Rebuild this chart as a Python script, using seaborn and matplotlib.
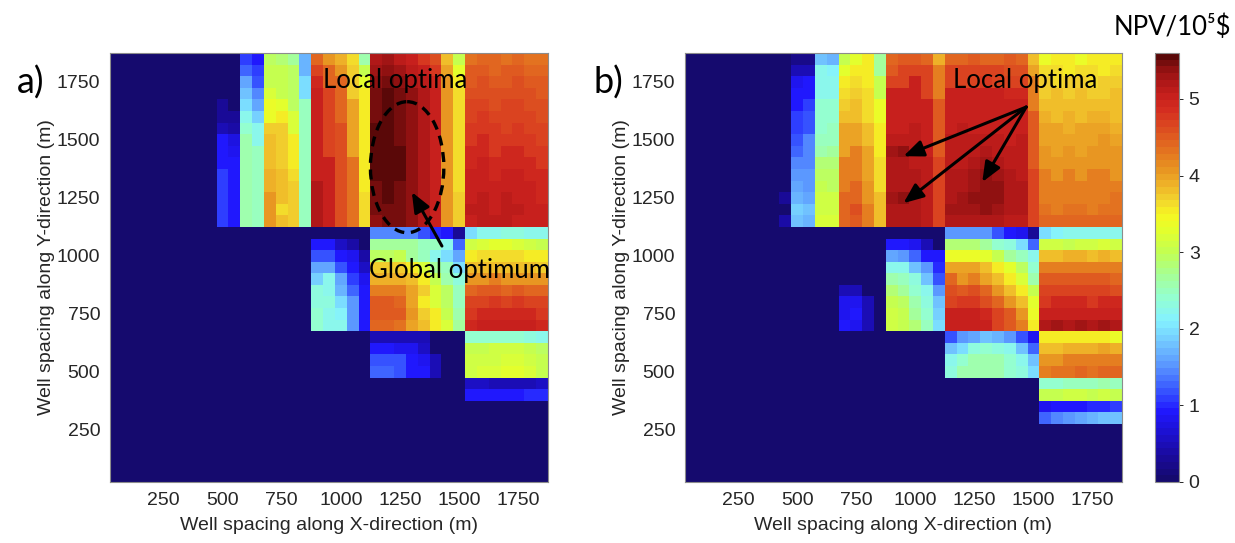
import numpy as np
import pandas as pd
import matplotlib
matplotlib.use("Agg")
import matplotlib.pyplot as plt
from matplotlib.colors import LinearSegmentedColormap
from matplotlib.patches import Ellipse
import seaborn as sns

# Cell centres of the well-spacing grid (m); rows run from the top (largest Y)
x_spacing = list(range(50, 1851, 50))
y_spacing = list(range(1850, 49, -50))

x_ticks = [250, 500, 750, 1000, 1250, 1500, 1750]
y_ticks = [250, 500, 750, 1000, 1250, 1500, 1750]
cbar_ticks = [0, 1, 2, 3, 4, 5]
npv_max = 5.6

# NPV in tenths of 10^5 $: one string per grid row, one character per cell.
# 0-9 -> 0.0-0.9, A-Z -> 1.0-3.5, a-u -> 3.6-5.6
LEVELS = "0123456789ABCDEFGHIJKLMNOPQRSTUVWXYZabcdefghijklmnopqrstu"

npv_a = [
    "000000000" + "00" + "B9TSRH" + "ifdaQ" + "qrpomk" + "cU" + "hiihihh",
    "000000000" + "00" + "DBUUTH" + "lifbU" + "rsrpom" + "eX" + "jjijjii",
    "000000000" + "00" + "GCUUTK" + "niibX" + "stsqpn" + "fZ" + "jkjjkjj",
    "000000000" + "00" + "IEWUTK" + "olibZ" + "tutsqo" + "fa" + "kkkkkkj",
    "000000000" + "30" + "KGYXTP" + "olieZ" + "tutsqo" + "fa" + "llkllkk",
    "000000000" + "33" + "MJYZWP" + "olieZ" + "tutsqo" + "fa" + "lmllllk",
    "000000000" + "54" + "OMbbWP" + "olkeZ" + "uutsqo" + "fa" + "mmmlmll",
    "000000000" + "97" + "QMcbZP" + "olkeZ" + "uutsqo" + "fa" + "mnmmmml",
    "000000000" + "98" + "QPcbZP" + "olkeZ" + "uuusqo" + "fa" + "nnmnnmm",
    "000000000" + "99" + "QPcbZP" + "ookhZ" + "uuusqo" + "fa" + "nonnnnm",
    "000000000" + "B9" + "QPdcaP" + "ookhZ" + "uuusqo" + "fa" + "oonoonn",
    "000000000" + "B9" + "QPdcbP" + "qokhZ" + "tutsqo" + "fa" + "oooooon",
    "000000000" + "B9" + "QPfcbP" + "qokha" + "tutsqo" + "fb" + "opopoon",
    "000000000" + "B9" + "QPfabP" + "qokha" + "tttsqo" + "fb" + "ppoppoo",
    "000000000" + "B9" + "QPfcbP" + "qokha" + "sttsqo" + "fb" + "opppooo",
    "0" * 22 + "EEEECA93" + "KMMNNMM",
    "0" * 17 + "99640" + "RRRRPPMD" + "VWXXWVU",
    "0" * 17 + "CC984" + "TTURPMKG" + "ZaaaaZZ",
    "0" * 17 + "GGC96" + "bbbZWRPK" + "ccccccb",
    "0" * 17 + "JMGB8" + "dddcZUQN" + "ffgffff",
    "0" * 17 + "NMHD9" + "gggebWTP" + "ijjijii",
    "0" * 17 + "NNKF9" + "jjieZWTP" + "llmlmll",
    "0" * 17 + "OMLF9" + "jjjfbZUQ" + "mnnnnnm",
    "0" * 17 + "OMMF9" + "iihecZWR" + "nooooon",
    "0" * 22 + "555550" + "00" + "OOOOONM",
    "0" * 22 + "998860" + "00" + "UUVVVUT",
    "0" * 22 + "CCC985" + "00" + "VVVWWVU",
    "0" * 22 + "DDC995" + "00" + "VWWXXWU",
    "0" * 30 + "6655556",
    "0" * 30 + "99999AA",
] + ["0" * 37] * 7

npv_b = [
    "00000000" + "0" + "2" + "2" + "IHUXZR" + "ijjid" + "iijiiji" + "c" + "YZZYZZZ",
    "00000000" + "0" + "5" + "5" + "MLXZZR" + "jlllg" + "lllllkk" + "e" + "aaZaaZa",
    "00000000" + "0" + "8" + "9" + "MMZaZU" + "llolg" + "lllmlll" + "g" + "babbabb",
    "00000000" + "0" + "9" + "9" + "MMabaU" + "ooolg" + "ooooonn" + "g" + "bcbcbbc",
    "00000000" + "0" + "9" + "B" + "OObcaY" + "ooooj" + "ooooooo" + "g" + "ccccccc",
    "00000000" + "0" + "B" + "C" + "OOccaY" + "ooooj" + "ooooooo" + "j" + "dcdcddc",
    "00000000" + "0" + "B" + "C" + "OPeecZ" + "oopoj" + "opooooo" + "j" + "eedeeed",
    "00000000" + "0" + "C" + "E" + "PPeecZ" + "pppoj" + "pppppop" + "j" + "eeeeefe",
    "00000000" + "0" + "D" + "E" + "QRegeZ" + "rspoj" + "pppqppp" + "j" + "fefefff",
    "00000000" + "0" + "E" + "E" + "SSggea" + "qqppl" + "ppqrqpp" + "j" + "fffffff",
    "00000000" + "0" + "F" + "F" + "TTggea" + "qqqpl" + "qqrsrqp" + "l" + "gfgfggf",
    "00000000" + "0" + "G" + "F" + "UTgifa" + "qqqpl" + "qqrssqq" + "l" + "ggggggg",
    "00000000" + "3" + "H" + "G" + "VViifc" + "rsqpl" + "qrsssqq" + "l" + "ggggggh",
    "00000000" + "0" + "J" + "I" + "VVikgc" + "qqqpl" + "rrrsrqq" + "l" + "hghhghh",
    "00000000" + "4" + "I" + "H" + "WWijgc" + "qqqpl" + "qqqqqpp" + "l" + "iiiiiii",
    "0" * 22 + "FFFFC983" + "KLMMMMM",
    "0" * 17 + "99850" + "SSSRONKD" + "VVUVVWV",
    "0" * 17 + "GFD99" + "YYYXURPM" + "ccddcdc",
    "0" * 17 + "MMIFA" + "eeecZXTO" + "ggggggg",
    "0" * 17 + "QPNIC" + "ifgecZWQ" + "jjjjjji",
    "0" * 13 + "550" + "0" + "SROMF" + "kjkifcZU" + "llllllk",
    "0" * 13 + "885" + "0" + "UTQNI" + "lmmkifcX" + "mnnnmnn",
    "0" * 13 + "895" + "0" + "VUROJ" + "ooonljfY" + "ooooooo",
    "0" * 13 + "985" + "0" + "VUSPK" + "ooooljgZ" + "qrqrqrq",
    "0" * 22 + "CFGIHFC8" + "ZZZZZZY",
    "0" * 22 + "IKNONMID" + "ccddded",
    "0" * 22 + "MOQQQOMI" + "ffggggg",
    "0" * 22 + "NQQQQONK" + "ghhihii",
    "0" * 30 + "OOPPPQP",
    "0" * 30 + "UUVVUVU",
    "0" * 30 + "8999AAB",
    "0" * 30 + "DEFGHII",
] + ["0" * 37] * 5


def decode(rows):
    assert len(rows) == len(y_spacing)
    assert all(len(r) == len(x_spacing) for r in rows)
    vals = np.array([[LEVELS.index(ch) / 10 for ch in r] for r in rows])
    return pd.DataFrame(vals, index=y_spacing, columns=x_spacing)


# jet-like palette, quantised to 64 levels
jet_stops = [0.0, 0.3, 0.6, 0.9, 1.2, 1.5, 1.8, 2.1, 2.4, 2.7, 3.0, 3.3, 3.5,
             3.7, 3.9, 4.1, 4.3, 4.5, 4.7, 4.9, 5.1, 5.3, 5.45, 5.6]
jet_colors = ["#150a6e", "#1a0a9c", "#1c10d0", "#2018ff", "#3a5cff", "#5a96ff",
              "#72c6ff", "#84f2ff", "#94ffd0", "#a6ff96", "#c2ff52", "#e4ff2c",
              "#f6f622", "#f2d22e", "#eeb228", "#e89422", "#e47a20", "#e05e20",
              "#da4420", "#d42c20", "#c41e1c", "#a81616", "#8a1010", "#5a0808"]
npv_cmap = LinearSegmentedColormap.from_list(
    "npv_jet", list(zip([s / npv_max for s in jet_stops], jet_colors)), N=64)

sns.set_style("white")
plt.rcParams["font.family"] = ["Liberation Sans", "DejaVu Sans"]
TXT = "#262626"
CALLOUT = ["Lato", "DejaVu Sans"]

W, H = 1235, 543
fig = plt.figure(figsize=(W / 100, H / 100), dpi=100)
ax_a = fig.add_axes([110 / W, 61 / H, 438 / W, 429 / H])
ax_b = fig.add_axes([685 / W, 61 / H, 437 / W, 429 / H])
cax = fig.add_axes([1155 / W, 61 / H, 24 / W, 429 / H])


def draw_panel(ax, rows, cbar_ax=None):
    df = decode(rows)
    sns.heatmap(df, ax=ax, cmap=npv_cmap, vmin=0, vmax=npv_max,
                cbar=cbar_ax is not None, cbar_ax=cbar_ax,
                cbar_kws={"ticks": cbar_ticks} if cbar_ax is not None else None,
                xticklabels=False, yticklabels=False, linewidths=0)
    ax.set_xticks([x_spacing.index(v) + 0.5 for v in x_ticks])
    ax.set_xticklabels([str(v) for v in x_ticks], rotation=0)
    ax.set_yticks([y_spacing.index(v) + 0.5 for v in y_ticks])
    ax.set_yticklabels([str(v) for v in y_ticks], rotation=0)
    ax.tick_params(axis="both", direction="in", length=4, width=0.7,
                   color=TXT, labelcolor=TXT, labelsize=14,
                   top=True, right=True, bottom=True, left=True, pad=7)
    for s in ax.spines.values():
        s.set_visible(True)
        s.set_color("#8c8c8c")
        s.set_linewidth(0.8)
    ax.set_xlabel("Well spacing along X-direction (m)", fontsize=14, color=TXT)
    ax.set_ylabel("Well spacing along Y-direction (m)", fontsize=14, color=TXT)
    ax.xaxis.set_label_coords(0.5, -0.082)
    ax.yaxis.set_label_coords(-0.126, 0.5)


draw_panel(ax_a, npv_a)
draw_panel(ax_b, npv_b, cbar_ax=cax)

cbar = ax_b.collections[0].colorbar
cbar.ax.tick_params(labelsize=14, length=3, width=0.7, direction="out",
                    color=TXT, labelcolor=TXT, pad=4)
cbar.outline.set_edgecolor("#8c8c8c")
cbar.outline.set_linewidth(0.8)

arrow_kw = dict(arrowstyle="-|>,head_length=0.6,head_width=0.25",
                color="black", lw=2.2, mutation_scale=20,
                shrinkA=0, shrinkB=0)

# panel a call-outs
ax_a.text(24.07, 2.33, "Local optima", ha="center", va="center",
          fontsize=18.5, family=CALLOUT, color="black")
ax_a.add_patch(Ellipse((25.1, 9.85), width=6.2, height=11.3, fill=False,
                       ec="black", lw=2.4, ls=(0, (3, 2))))
ax_a.text(29.56, 18.8, "Global optimum", ha="center", va="center",
          fontsize=18.5, family=CALLOUT, color="black")
ax_a.annotate("", xy=(25.5, 12.0), xytext=(28.04, 16.65), arrowprops=arrow_kw)

# panel b call-outs
ax_b.text(28.8, 2.41, "Local optima", ha="center", va="center",
          fontsize=18.5, family=CALLOUT, color="black")
for head in [(18.5, 8.9), (18.5, 12.95), (25.17, 11.13)]:
    ax_b.annotate("", xy=head, xytext=(28.89, 4.66), arrowprops=arrow_kw)

fig.text(31 / W, 1 - 83 / H, "a)", ha="center", va="center",
         fontsize=26, family=CALLOUT, color="black")
fig.text(608 / W, 1 - 83 / H, "b)", ha="center", va="center",
         fontsize=26, family=CALLOUT, color="black")
fig.text(1172 / W, 1 - 27 / H, "NPV/10\u2075$", ha="center", va="center",
         fontsize=18.5, family=CALLOUT, color="black")

fig.savefig("out.png", dpi=100)
